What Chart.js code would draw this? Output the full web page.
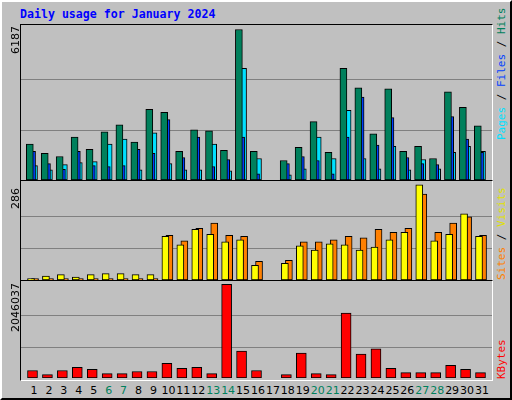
<!DOCTYPE html>
<html><head><meta charset="utf-8">
<script src="https://cdn.jsdelivr.net/npm/chart.js@4/dist/chart.umd.min.js"></script>
<style>
body{margin:0;background:#fff;}
#wrap{position:absolute;left:0;top:0;width:512px;height:400px;background:#c0c0c0;box-sizing:border-box;border-top:2px solid #fff;border-left:2px solid #fff;border-right:2px solid #000;border-bottom:2px solid #000;font-family:"DejaVu Sans",sans-serif;}
.panel{position:absolute;box-sizing:border-box;border-top:1px solid #000;border-left:1px solid #000;border-right:1px solid #fff;border-bottom:1px solid #fff;}
canvas{position:absolute;}
.t{position:absolute;white-space:nowrap;font-size:11px;line-height:12px;}
.rot{transform-origin:0 0;transform:rotate(-90deg);}
.rotr{transform-origin:0 0;transform:rotate(-90deg);font-family:"DejaVu Sans Mono",monospace;font-size:11px;}
</style></head><body>
<div id="wrap">
<div class="t" style="left:18px;top:6px;font-family:'DejaVu Sans Mono',monospace;font-weight:bold;font-size:11.6px;color:#0000ff">Daily usage for January 2024</div>
<div class="panel" style="left:18px;top:22px;width:473px;height:157px"></div>
<div class="panel" style="left:18px;top:178px;width:473px;height:101px"></div>
<div class="panel" style="left:18px;top:278px;width:473px;height:101px"></div>
<canvas id="c1" style="left:19px;top:23px"></canvas>
<canvas id="c2" style="left:19px;top:179px"></canvas>
<canvas id="c3" style="left:19px;top:279px"></canvas>
<div class="t rot" style="left:8px;top:52px">6187</div>
<div class="t rot" style="left:8px;top:207px">286</div>
<div class="t rot" style="left:8px;top:330px">2046037</div>
<div class="t rotr" style="left:494px;top:138px"><span style="color:#00e0ff">Pages</span><span style="color:#000"> / </span><span style="color:#0040ff">Files</span><span style="color:#000"> / </span><span style="color:#00805c">Hits</span></div>
<div class="t rotr" style="left:494px;top:278px"><span style="color:#ff8000">Sites</span><span style="color:#000"> / </span><span style="color:#e0e000">Visits</span></div>
<div class="t rotr" style="left:494px;top:377px"><span style="color:#ff0000">KBytes</span></div>
<div id="labels"></div>
</div>
<script>
const days=[1,2,3,4,5,6,7,8,9,10,11,12,13,14,15,16,17,18,19,20,21,22,23,24,25,26,27,28,29,30,31];
const weekend=[6,7,13,14,20,21,27,28];
const hits=[1473,1094,968,1768,1263,1978,2273,1557,2904,2778,1178,2062,2020,1220,6187,1178,0,800,1347,2399,1136,4588,3788,1894,3746,1178,1389,884,3620,2988,2231];
const files=[1178,673,435,1178,589,547,589,1263,1094,2483,926,1768,547,842,1768,253,0,673,968,800,253,1768,3409,1431,2567,926,673,631,2609,1684,1136];
const pages=[589,421,631,715,758,1473,1684,421,1936,673,421,421,1473,379,4588,884,0,210,463,1768,884,2862,884,463,1389,421,842,463,1136,1389,1178];
const visits=[4,12,16,9,16,19,19,16,16,131,106,152,137,115,121,44,0,50,103,90,109,106,90,99,121,143,286,118,137,199,131];
const sites=[4,4,4,4,4,4,4,4,4,134,118,155,171,134,131,56,0,59,115,115,121,131,127,152,143,155,258,143,171,190,134];
const kbytes=[164000,75000,164000,231000,187000,97000,97000,142000,142000,321000,209000,231000,97000,2046037,590000,164000,0,75000,545000,97000,75000,1419000,523000,635000,209000,119000,119000,119000,276000,187000,119000];
const topHits=6187, topSites=286, topKB=2046037;

const W=471;
function pts(arr,sh){return days.map((d,i)=>({x:d+sh,y:arr[i]}));}
function ds(arr,sh,color,w){return {data:pts(arr,sh),backgroundColor:color,borderColor:'#000',borderWidth:1,borderSkipped:false,barThickness:w,grouped:false};}
function make(id,h,datasets,top,frac){
  const cv=document.getElementById(id);
  cv.width=W;cv.height=h;cv.style.width=W+'px';cv.style.height=h+'px';
  new Chart(cv,{type:'bar',data:{datasets},
    options:{responsive:false,animation:false,devicePixelRatio:1,
      layout:{padding:0},
      plugins:{legend:{display:false},tooltip:{enabled:false}},
      scales:{
        x:{type:'linear',min:0.13,max:31.67,offset:false,display:false,grid:{offset:false}},
        y:{min:0,max:top*frac,display:true,
           afterBuildTicks:s=>{s.ticks=[{value:top*0.33},{value:top*0.67}];},
           ticks:{display:false},border:{display:false},
           grid:{color:'#808080',lineWidth:1,drawTicks:false}}
      }}});
}
make('c1',155,[ds(hits,-0.28,'#00805c',7),ds(files,-0.13,'#0040ff',7),ds(pages,0.0,'#00e0ff',7)],topHits,1.03);
make('c2',99,[ds(visits,-0.2,'#ffff00',7),ds(sites,0.07,'#ff8000',7)],topSites,1.04);
make('c3',97,[ds(kbytes,-0.1,'#ff0000',10)],topKB,1.035);

const lab=document.getElementById('labels');
days.forEach(d=>{
  const x=19+(d-0.13)/(31.67-0.13)*W;
  const e=document.createElement('div');
  e.className='t';e.textContent=d;
  e.style.left=(x-15)+'px';e.style.width='30px';e.style.textAlign='center';e.style.top='383px';
  e.style.color=weekend.includes(d)?'#00805c':'#000';
  lab.appendChild(e);
});
</script>
</body></html>
